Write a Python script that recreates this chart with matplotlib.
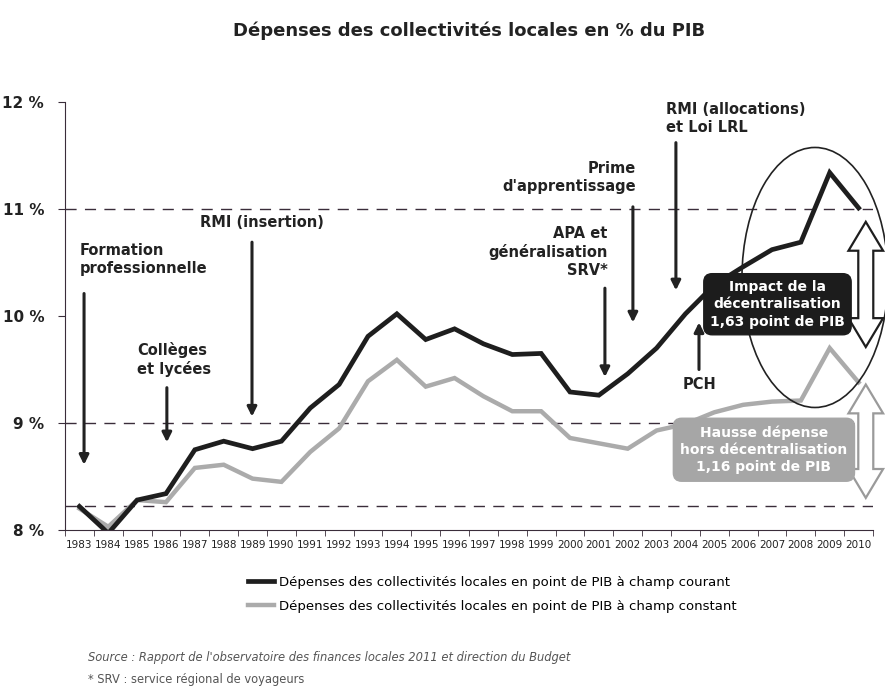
import numpy as np
import matplotlib
matplotlib.use("Agg")
import matplotlib.pyplot as plt
from matplotlib.patches import Ellipse, Polygon
from matplotlib.lines import Line2D

# donnees
years = list(range(1983, 2011))
courant = [8.22, 7.97, 8.28, 8.34, 8.75, 8.83, 8.76, 8.83, 9.14, 9.36, 9.81, 10.02,
           9.78, 9.88, 9.74, 9.64, 9.65, 9.29, 9.26, 9.46, 9.70, 10.02, 10.29, 10.46,
           10.62, 10.69, 11.34, 11.01]
constant = [8.20, 8.03, 8.28, 8.26, 8.58, 8.61, 8.48, 8.45, 8.73, 8.95, 9.39, 9.59,
            9.34, 9.42, 9.25, 9.11, 9.11, 8.86, 8.81, 8.76, 8.93, 8.99, 9.10, 9.17,
            9.20, 9.21, 9.70, 9.38]
ytick_vals = [8, 9, 10, 11, 12]
ytick_labels = ["8 %", "9 %", "10 %", "11 %", "12 %"]
dash_levels = [11, 9, 8.22]

narrow = ["Liberation Sans Narrow", "DejaVu Sans"]
dark = "#3a2d3a"

fig = plt.figure(figsize=(8.85, 6.86), dpi=100)
ax = fig.add_axes([65/885, 1-530/686, 808/885, 428/686])

for lv in dash_levels:
    ax.axhline(lv, color=dark, lw=1, ls=(0, (8, 6)), zorder=1)

ax.plot(years, constant, color="#ababab", lw=3.2, zorder=3, solid_joinstyle="miter")
ax.plot(years, courant, color="#1e1e1e", lw=3.4, zorder=4, solid_joinstyle="miter")

ax.set_xlim(1982.5, 2010.5)
ax.set_ylim(8, 12)
ax.set_yticks(ytick_vals)
ax.set_yticklabels(ytick_labels, fontsize=11, fontweight="bold", color="#222")
ax.set_xticks(years)
ax.set_xticklabels([str(y) for y in years], fontsize=7.5, family=narrow, color="#222")
ax.set_xticks(np.arange(1982.5, 2011, 1), minor=True)
ax.tick_params(axis="x", which="major", length=0, pad=7)
ax.tick_params(axis="x", which="minor", length=4, color=dark)
ax.tick_params(axis="y", length=5, color=dark, pad=10)
for s in ["top", "right"]:
    ax.spines[s].set_visible(False)
for s in ["left", "bottom"]:
    ax.spines[s].set_color(dark)

# fleches des evenements
def arrow(x, y0, y1):
    ax.annotate("", xy=(x, y1), xytext=(x, y0),
                arrowprops=dict(arrowstyle="-|>", lw=2.2, color="#222",
                                mutation_scale=14, shrinkA=0, shrinkB=0), zorder=5)

txt = dict(fontsize=10.5, fontweight="bold", color="#222", linespacing=1.25)
ax.text(1983.0, 10.68, "Formation\nprofessionnelle", ha="left", va="top", **txt)
arrow(1983.16, 10.21, 8.61)
ax.text(1985.0, 9.76, "Collèges\net lycées", ha="left", va="top", **txt)
arrow(1986.03, 9.33, 8.82)
ax.text(1987.18, 10.87, "RMI (insertion)", ha="left", va="center", **txt)
arrow(1988.98, 10.69, 9.06)
ax.text(2001.31, 10.84, "APA et\ngénéralisation\nSRV*", ha="right", va="top", **txt)
arrow(2001.21, 10.26, 9.43)
ax.text(2002.28, 11.45, "Prime\nd'apprentissage", ha="right", va="top", **txt)
arrow(2002.18, 11.02, 9.94)
ax.text(2003.32, 12.0, "RMI (allocations)\net Loi LRL", ha="left", va="top", **txt)
arrow(2003.67, 11.62, 10.24)
ax.text(2004.5, 9.36, "PCH", ha="center", va="center", **txt)
arrow(2004.47, 9.50, 9.94)

ax.add_patch(Ellipse((2008.49, 10.36), 5.06, 2.43, fill=False, ec="#222", lw=1.2,
                     clip_on=False, zorder=6))

ax.text(2007.19, 10.11, "Impact de la\ndécentralisation\n1,63 point de PIB",
        ha="center", va="center", color="white", fontsize=10, fontweight="bold",
        linespacing=1.3, zorder=8,
        bbox=dict(boxstyle="round,pad=0.45,rounding_size=0.6", fc="#1c1c1c", ec="#1c1c1c"))
ax.text(2006.72, 8.75, "Hausse dépense\nhors décentralisation\n1,16 point de PIB",
        ha="center", va="center", color="white", fontsize=10, fontweight="bold",
        linespacing=1.3, zorder=8,
        bbox=dict(boxstyle="round,pad=0.5,rounding_size=0.6", fc="#a6a6a6", ec="#a6a6a6"))

# doubles fleches creuses
def double_arrow(xc, ytop, ybot, ec, hw=0.6, sw=0.26, hl=0.27):
    pts = [(xc, ytop), (xc + hw, ytop - hl), (xc + sw, ytop - hl),
           (xc + sw, ybot + hl), (xc + hw, ybot + hl), (xc, ybot),
           (xc - hw, ybot + hl), (xc - sw, ybot + hl), (xc - sw, ytop - hl),
           (xc - hw, ytop - hl)]
    ax.add_patch(Polygon(pts, closed=True, fc="white", ec=ec, lw=1.6,
                         clip_on=False, zorder=7, joinstyle="miter"))

double_arrow(2010.25, 10.88, 9.71, "#1e1e1e")
double_arrow(2010.25, 9.36, 8.3, "#9a9a9a")

fig.text(0.53, 0.955, "Dépenses des collectivités locales en % du PIB", ha="center",
         va="center", fontsize=13, fontweight="bold", color="#222")

handles = [Line2D([], [], color="#1e1e1e", lw=3.4),
           Line2D([], [], color="#ababab", lw=3.2)]
labels = ["Dépenses des collectivités locales en point de PIB à champ courant",
          "Dépenses des collectivités locales en point de PIB à champ constant"]
fig.legend(handles, labels, loc="upper left", bbox_to_anchor=(236/885, 1-564/686),
           frameon=False, handlelength=2.0, handletextpad=0.35, labelspacing=0.85,
           prop=dict(family=narrow, size=9.5))

fig.text(88/885, 1-658/686,
         "Source : Rapport de l'observatoire des finances locales 2011 et direction du Budget",
         fontsize=8.3, style="italic", color="#555", va="center")
fig.text(88/885, 1-680/686, "* SRV : service régional de voyageurs",
         fontsize=8.3, color="#555", va="center")

fig.savefig("out.png", dpi=100)
